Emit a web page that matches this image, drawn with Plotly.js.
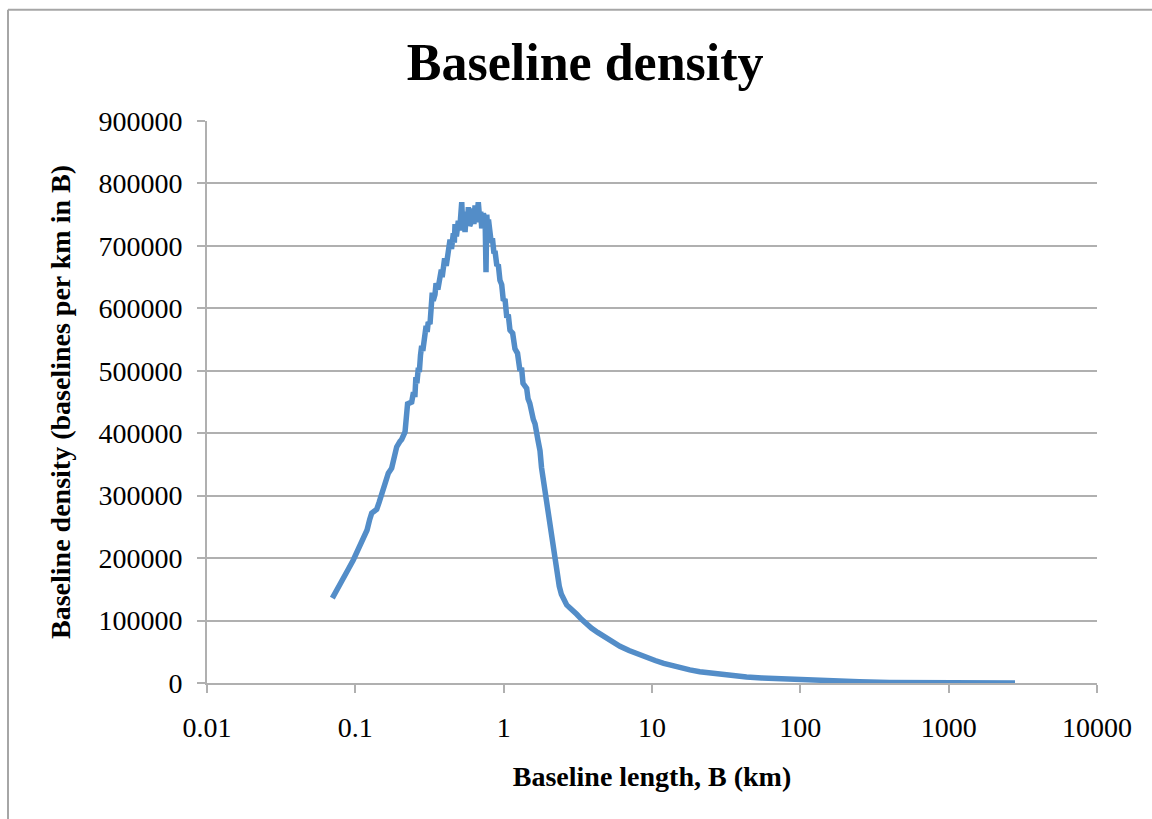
<!DOCTYPE html>
<html>
<head>
<meta charset="utf-8">
<script src="https://cdn.plot.ly/plotly-3.0.1.min.js"></script>
<style>
  html, body { margin: 0; padding: 0; background: #fff; }
  #chart { width: 1152px; height: 819px; }
</style>
</head>
<body>
<div id="chart"></div>
<script>
// Baseline length B (km)
const baselineKm = [
  0.0700, 0.0760, 0.0830, 0.0900, 0.0969, 0.1050, 0.1131, 0.1200, 0.1250, 0.1289,
  0.1340, 0.1393, 0.1450, 0.1506, 0.1580, 0.1669, 0.1758, 0.1830, 0.1900, 0.2000,
  0.2053, 0.2163, 0.2200, 0.2250, 0.2399, 0.2450, 0.2525, 0.2560, 0.2600, 0.2660,
  0.2700, 0.2750, 0.2800, 0.2850, 0.2950, 0.3000, 0.3050, 0.3100, 0.3187, 0.3250,
  0.3300, 0.3350, 0.3444, 0.3500, 0.3600, 0.3723, 0.3800, 0.3850, 0.3917, 0.4000,
  0.4100, 0.4200, 0.4236, 0.4350, 0.4450, 0.4578, 0.4650, 0.4700, 0.4800, 0.4945,
  0.5050, 0.5150, 0.5215, 0.5300, 0.5400, 0.5490, 0.5600, 0.5700, 0.5780, 0.5900,
  0.6087, 0.6200, 0.6300, 0.6414, 0.6550, 0.6745, 0.6900, 0.7000, 0.7110, 0.7300,
  0.7500, 0.7603, 0.7650, 0.7690, 0.7800, 0.7900, 0.8090, 0.8250, 0.8400, 0.8600,
  0.8740, 0.9000, 0.9200, 0.9440, 0.9700, 0.9950, 1.0210, 1.0500, 1.0740, 1.1030,
  1.1500, 1.1920, 1.2400, 1.2880, 1.3200, 1.3500, 1.4290, 1.4600, 1.5000, 1.5850,
  1.6270, 1.7000, 1.7580, 1.8000, 1.8500, 1.9000, 1.9800, 2.0530, 2.1400, 2.2200,
  2.3000, 2.3700, 2.4500, 2.5500, 2.6600, 2.8000, 2.9500, 3.1100, 3.3500, 3.6300,
  3.9000, 4.3000, 4.7000, 5.1000, 5.4800, 6.0800, 7.0000, 7.8800, 9.2000, 10.500, 12.000,
  13.500, 15.400, 18.000, 21.000, 25.900, 30.000, 36.000, 43.400, 55.000, 72.900,
  95.000, 122.00, 150.00, 185.00, 250.00, 400.00, 700.00, 1200.0, 2000.0, 2800.0
];
// Baseline density (baselines per km in B)
const density = [
  136000, 150000, 167000, 183000, 197000, 214000, 229000, 245000, 262000, 272000,
  275000, 278000, 290000, 301000, 318000, 336000, 344000, 362000, 378000, 387000,
  390000, 402000, 440000, 447000, 450000, 462000, 462000, 490000, 480000, 505000,
  498000, 525000, 540000, 532000, 555000, 572000, 562000, 578000, 575000, 600000,
  625000, 612000, 622000, 640000, 630000, 650000, 662000, 650000, 668000, 680000,
  668000, 690000, 682000, 710000, 695000, 720000, 705000, 735000, 715000, 740000,
  725000, 745000, 770000, 732000, 755000, 722000, 750000, 735000, 762000, 732000,
  740000, 760000, 735000, 765000, 738000, 770000, 742000, 755000, 728000, 752000,
  742000, 658000, 720000, 750000, 730000, 742000, 722000, 705000, 712000, 688000,
  692000, 668000, 670000, 645000, 638000, 612000, 615000, 585000, 590000, 565000,
  560000, 535000, 528000, 500000, 505000, 480000, 472000, 455000, 448000, 422000,
  415000, 390000, 372000, 345000, 325000, 304000, 275000, 250000, 222000, 197000,
  172000, 155000, 142000, 132000, 125000, 120000, 116000, 110000, 102000, 94000,
  88000, 81000, 75000, 69500, 65000, 58800, 52000, 47000, 40300, 36000, 31500,
  28000, 24500, 21000, 18000, 15000, 13000, 11000, 9500, 8000, 6500,
  5300, 4500, 3800, 3000, 2000, 1000, 500, 250, 100, 50
];
const xTickVals = [0.01, 0.1, 1, 10, 100, 1000, 10000];
const xTickText = ['0.01', '0.1', '1', '10', '100', '1000', '10000'];
const yTickVals = [0, 100000, 200000, 300000, 400000, 500000, 600000, 700000, 800000, 900000];
const yTickText = ['0', '100000', '200000', '300000', '400000', '500000', '600000', '700000', '800000', '900000'];

const serif = '"Liberation Serif", "Times New Roman", serif';
const gridCol = '#b0b0b0';

const trace = {
  x: baselineKm,
  y: density,
  type: 'scatter',
  mode: 'lines',
  line: { color: 'rgb(83,141,200)', width: 5.5 },
  hoverinfo: 'x+y'
};

const L = 207, R = 1097, T = 120.5, B = 683.5;
const pw = R - L, ph = B - T;
const px = v => (v - L) / pw;
const py = v => (B - v) / ph;

const layout = {
  width: 1152,
  height: 819,
  paper_bgcolor: '#ffffff',
  plot_bgcolor: '#ffffff',
  showlegend: false,
  margin: { l: L, r: 1152 - R, t: T, b: 819 - B, pad: 0 },
  title: {
    text: '<b>Baseline density</b>',
    font: { family: serif, size: 52, color: '#000' },
    x: 0.508, xanchor: 'center',
    y: 0.924, yanchor: 'middle'
  },
  xaxis: {
    type: 'log',
    range: [-2, 4],
    tickvals: xTickVals,
    ticktext: xTickText,
    showgrid: false,
    zeroline: false,
    showline: true,
    linecolor: gridCol,
    linewidth: 2,
    ticks: 'outside',
    ticklen: 8,
    tickwidth: 2,
    tickcolor: gridCol,
    tickfont: { family: serif, size: 28, color: '#000' },
    ticklabelstandoff: 10,
    title: {
      text: '<b>Baseline length, B (km)</b>',
      font: { family: serif, size: 28, color: '#000' },
      standoff: 25
    },
    fixedrange: true
  },
  yaxis: {
    range: [0, 900000],
    tickvals: yTickVals,
    ticktext: yTickText,
    showgrid: true,
    gridcolor: gridCol,
    gridwidth: 2,
    zeroline: false,
    showline: true,
    linecolor: gridCol,
    linewidth: 2,
    ticks: 'outside',
    ticklen: 8,
    tickwidth: 2,
    tickcolor: gridCol,
    tickfont: { family: serif, size: 28, color: '#000' },
    ticklabelstandoff: 9,
    title: {
      text: '<b>Baseline density (baselines per km in B)</b>',
      font: { family: serif, size: 28, color: '#000' },
      standoff: 20
    },
    fixedrange: true
  },
  shapes: [
    { type: 'line', xref: 'paper', yref: 'paper', x0: px(8), x1: px(8), y0: py(9), y1: py(830),
      line: { color: '#a6a6a6', width: 2 } },
    { type: 'line', xref: 'paper', yref: 'paper', x0: px(8), x1: px(1160), y0: py(9), y1: py(9),
      line: { color: '#a6a6a6', width: 2 } }
  ]
};

Plotly.newPlot('chart', [trace], layout, { displayModeBar: false, staticPlot: true });
</script>
</body>
</html>
